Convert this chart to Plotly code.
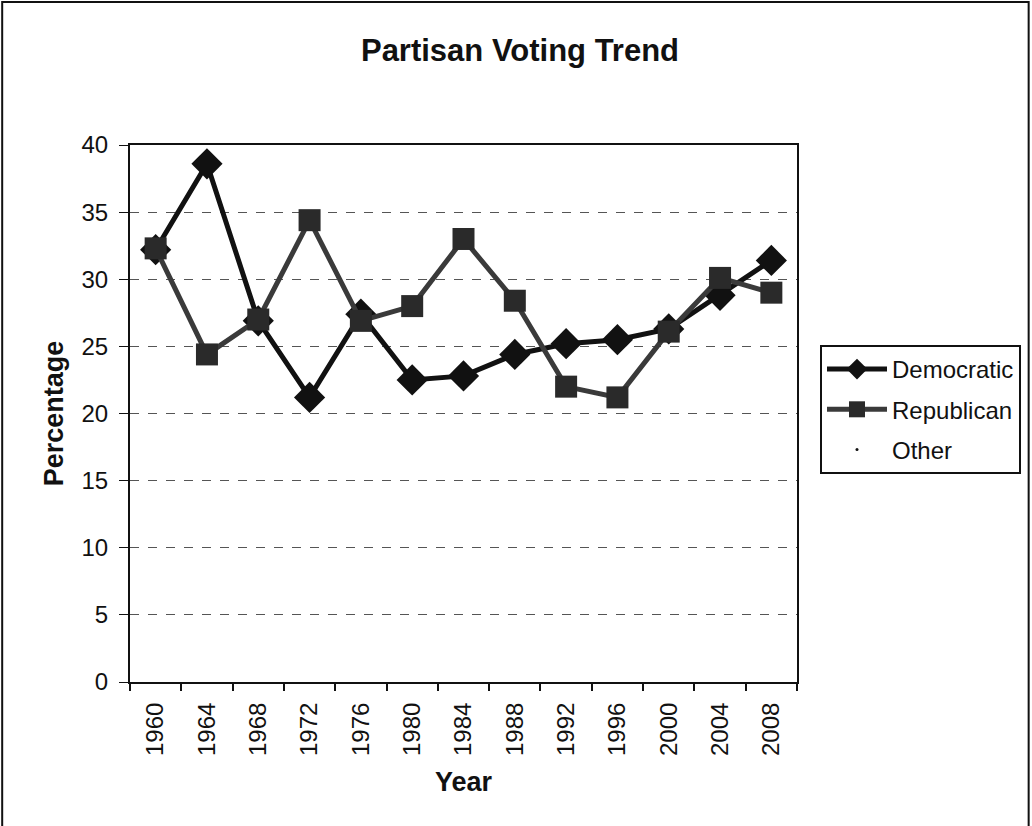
import plotly.graph_objects as go

# Election years and the share of the vote for each party
years = ["1960", "1964", "1968", "1972", "1976", "1980", "1984",
         "1988", "1992", "1996", "2000", "2004", "2008"]
democratic = [32.2, 38.6, 26.9, 21.2, 27.4, 22.5, 22.8, 24.4, 25.2, 25.5, 26.3, 28.8, 31.4]
republican = [32.3, 24.4, 27.0, 34.4, 26.9, 28.0, 33.0, 28.4, 22.0, 21.2, 26.1, 30.1, 29.0]
other = [None] * len(years)

FONT = "Arial, 'Liberation Sans', sans-serif"

# Plot-area geometry in pixels
W, H = 1032, 826
L, R, T, B = 130, 798, 145, 682

fig = go.Figure()

fig.add_trace(go.Scatter(
    x=years, y=democratic, name="Democratic", mode="lines+markers",
    legendgroup="dem",
    line=dict(color="#111111", width=5),
    marker=dict(symbol="diamond", size=24, color="#111111"),
))
fig.add_trace(go.Scatter(
    x=years, y=republican, name="Republican", mode="lines+markers",
    legendgroup="rep",
    line=dict(color="#3a3a3a", width=5),
    marker=dict(symbol="square", size=22, color="#2a2a2a"),
))
fig.add_trace(go.Scatter(
    x=years, y=other, name="Other", mode="markers",
    legendgroup="oth",
    marker=dict(symbol="circle", size=3, color="#111111"),
))

# Outer chart border (bottom edge runs off the page)
px = lambda p: (p - L) / (R - L)
py = lambda p: (B - p) / (B - T)
fig.add_shape(type="rect", xref="paper", yref="paper",
              x0=px(2), x1=px(1030), y0=py(840), y1=py(2),
              line=dict(color="#111111", width=2), layer="below")

fig.update_layout(
    width=W, height=H,
    margin=dict(l=L, r=W - R, t=T, b=H - B),
    paper_bgcolor="white", plot_bgcolor="white",
    font=dict(family=FONT, color="#111111", size=22),
    title=dict(text="<b>Partisan Voting Trend</b>", x=520 / W, xanchor="center",
               y=1 - 50 / H, yanchor="middle",
               font=dict(family=FONT, size=31, color="#111111")),
    showlegend=True,
    legend=dict(x=px(820), xanchor="left", y=py(345), yanchor="top",
                bordercolor="#111111", borderwidth=2, bgcolor="white",
                font=dict(family=FONT, size=24, color="#111111"),
                itemwidth=60, tracegroupgap=6),
    xaxis=dict(
        type="category", categoryorder="array", categoryarray=years,
        range=[-0.5, len(years) - 0.5], autorange=False,
        tickangle=-90, tickson="boundaries", ticks="outside", ticklen=7,
        tickcolor="#111111", tickwidth=2, ticklabelstandoff=9,
        tickfont=dict(family=FONT, size=24),
        showline=True, linecolor="#111111", linewidth=2, mirror=True,
        showgrid=False, zeroline=False,
        title=dict(text="<b>Year</b>", font=dict(family=FONT, size=27), standoff=17),
    ),
    yaxis=dict(
        range=[0, 40], dtick=5, tick0=0, autorange=False,
        ticks="outside", ticklen=9, tickcolor="#111111", tickwidth=1,
        ticklabelstandoff=6,
        tickfont=dict(family=FONT, size=24),
        showline=True, linecolor="#111111", linewidth=2, mirror=True,
        showgrid=True, gridcolor="#555555", gridwidth=1, griddash="dash",
        zeroline=False,
        title=dict(text="<b>Percentage</b>", font=dict(family=FONT, size=27), standoff=10),
    ),
)

fig.write_html("out.html")
